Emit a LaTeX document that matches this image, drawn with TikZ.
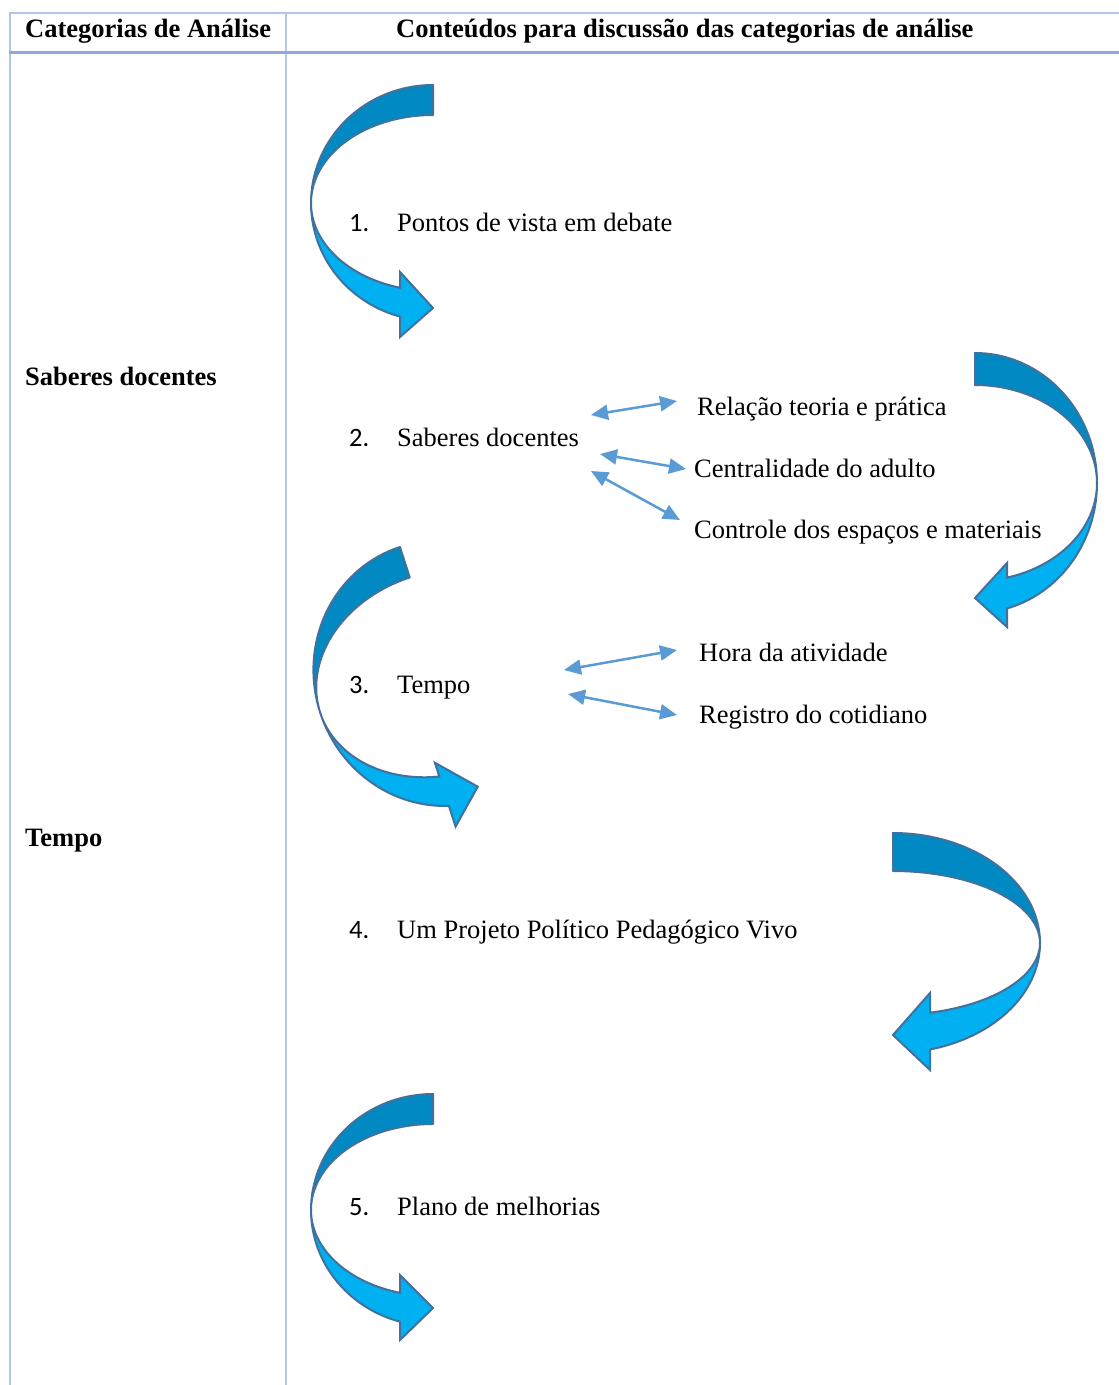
\documentclass[tikz,border=0pt]{standalone}
\usepackage{fontspec}
\setmainfont{Liberation Serif}
\newfontfamily\numfont{Carlito}
\usetikzlibrary{arrows.meta}
\definecolor{gridl}{HTML}{B4C6E7}
\definecolor{gridh}{HTML}{8EAADB}
\definecolor{arrdark}{HTML}{0089C2}
\definecolor{arrlight}{HTML}{00B0F0}
\definecolor{arredge}{HTML}{41719C}
\definecolor{smallarr}{HTML}{5B9BD5}
\newcommand\cvarrow[7]{% rx ryout ryin b y1 y2 t
  \pgfmathsetmacro\thb{acos(-#4/#1)}%
  \filldraw[darkpart] plot[domain=270:180,samples=50] ({#1*cos(\x)},{#2*sin(\x)})
     -- plot[domain=180:270,samples=50] ({#1*cos(\x)},{#3*sin(\x)}) -- cycle;
  \filldraw[lightpart] plot[domain=180:\thb,samples=40] ({#1*cos(\x)},{#2*sin(\x)})
     -- (-#4,#6) -- (0,#7) -- (-#4,#5)
     -- plot[domain=\thb:180,samples=40] ({#1*cos(\x)},{#3*sin(\x)}) -- cycle;
}
\begin{document}
\begin{tikzpicture}[x=1pt,y=-1pt,
  txt/.style={anchor=base west,inner sep=0pt,font=\fontsize{26.5}{30}\selectfont},
  btxt/.style={txt,font=\fontsize{26.5}{30}\selectfont\bfseries},
  ntxt/.style={txt,font=\fontsize{26.5}{30}\selectfont\numfont},
  darkpart/.style={fill=arrdark,draw=arredge,line width=2pt,line join=round},
  lightpart/.style={fill=arrlight,draw=arredge,line width=2pt,line join=miter},
  dbl/.style={draw=smallarr,line width=2.5pt,{Triangle[length=17pt,width=15pt]}-{Triangle[length=17pt,width=15pt]}},
  thinrule/.style={draw=gridl,line width=1.8pt},
  headrule/.style={draw=gridh,line width=3pt}]
\useasboundingbox (0,0) rectangle (1119,1385);
\fill[white] (0,0) rectangle (1119,1385);

% table rules
\coordinate (tl) at (9,13);
\coordinate (tr) at (1119,13);
\coordinate (hl) at (9,52);
\coordinate (hr) at (1119,52);
\coordinate (lb) at (10,1385);
\coordinate (lt) at (10,12);
\coordinate (mt) at (286,12);
\coordinate (mb) at (286,1385);
\draw[thinrule] (lt) -- (lb);
\draw[thinrule] (mt) -- (mb);
\draw[thinrule] (tl) -- (tr);
\draw[headrule] (hl) -- (hr);

% header
\node[btxt] (h1) at (25,37) {Categorias de Análise};
\node[btxt] (h2) at (396,37) {Conteúdos para discussão das categorias de análise};

% left column
\node[btxt] (c1) at (25,385) {Saberes docentes};
\node[btxt] (c2) at (25,846) {Tempo};

% curved arrows
\begin{scope}[shift={(433,203)}]
  \cvarrow{122}{118}{88}{33}{69}{134}{105}
\end{scope}
\begin{scope}[shift={(975,483)},xscale=-1]
  \cvarrow{122}{130}{98}{32}{80}{144}{115}
\end{scope}
\begin{scope}[shift={(441,673.5)},rotate=18]
  \cvarrow{127}{133}{101}{33.4}{83}{150}{119}
\end{scope}
\begin{scope}[shift={(893,943)},xscale=-1]
  \cvarrow{147}{110}{72}{37}{50}{127}{92}
\end{scope}
\begin{scope}[shift={(433,1210)}]
  \cvarrow{122}{116}{86}{33}{65}{130}{98}
\end{scope}

% items
\node[ntxt] (n1) at (349,231) {1.};
\node[txt] (t1) at (397,231) {Pontos de vista em debate};
\node[ntxt] (n2) at (349,446) {2.};
\node[txt] (t2) at (397,446) {Saberes docentes};
\node[txt] (s21) at (697,415) {Relação teoria e prática};
\node[txt] (s22) at (694,477) {Centralidade do adulto};
\node[txt] (s23) at (694,538) {Controle dos espaços e materiais};
\node[ntxt] (n3) at (349,693) {3.};
\node[txt] (t3) at (397,693) {Tempo};
\node[txt] (s31) at (699,661) {Hora da atividade};
\node[txt] (s32) at (699,723) {Registro do cotidiano};
\node[ntxt] (n4) at (349,938) {4.};
\node[txt] (t4) at (397,938) {Um Projeto Político Pedagógico Vivo};
\node[ntxt] (n5) at (349,1215) {5.};
\node[txt] (t5) at (397,1215) {Plano de melhorias};

% small double arrows
\coordinate (a1l) at (591,415);
\coordinate (a1r) at (677,401);
\coordinate (a2l) at (600,454);
\coordinate (a2r) at (686,469);
\coordinate (a3l) at (591,471);
\coordinate (a3r) at (680,520);
\coordinate (b1l) at (564,670);
\coordinate (b1r) at (677,650);
\coordinate (b2l) at (568,694);
\coordinate (b2r) at (677,715);
\draw[dbl] (a1l) -- (a1r);
\draw[dbl] (a2l) -- (a2r);
\draw[dbl] (a3l) -- (a3r);
\draw[dbl] (b1l) -- (b1r);
\draw[dbl] (b2l) -- (b2r);
\end{tikzpicture}
\end{document}
